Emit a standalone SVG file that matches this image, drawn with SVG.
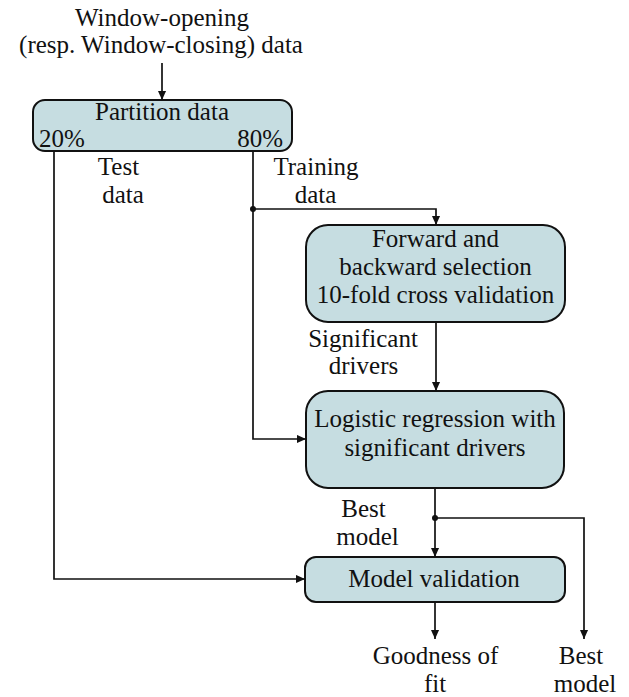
<svg xmlns="http://www.w3.org/2000/svg" width="629" height="697" viewBox="0 0 629 697">
  <style>
    text { font-family: "Liberation Serif", "Times New Roman", serif; font-size: 25px; fill: #111111; text-anchor: middle; }
    .box { fill: #c6dde1; stroke: #111111; stroke-width: 2; }
    .edge { fill: none; stroke: #111111; stroke-width: 1.7; }
    .dot { fill: #111111; }
  </style>
  <defs>
    <marker id="arrow" viewBox="0 0 10 10" refX="10" refY="5" markerWidth="9" markerHeight="9" markerUnits="userSpaceOnUse" orient="auto">
      <path d="M0,0.5 L10,5 L0,9.5 Z" fill="#111111"/>
    </marker>
  </defs>
  <rect width="629" height="697" fill="#ffffff"/>

  <!-- input label -->
  <g id="input">
    <text x="162" y="26">Window-opening</text>
    <text x="161" y="53">(resp. Window-closing) data</text>
  </g>

  <!-- nodes -->
  <g id="partition">
    <rect class="box" x="33" y="100" width="259" height="51" rx="12"/>
    <text x="162" y="120">Partition data</text>
    <text x="39" y="147" style="text-anchor:start">20%</text>
    <text x="283" y="147" style="text-anchor:end">80%</text>
  </g>
  <g id="selection">
    <rect class="box" x="306" y="225" width="259" height="97" rx="22"/>
    <text x="435.5" y="247">Forward and</text>
    <text x="435.5" y="275">backward selection</text>
    <text x="435.5" y="303">10-fold cross validation</text>
  </g>
  <g id="regression">
    <rect class="box" x="306" y="391" width="258" height="97" rx="22"/>
    <text x="435" y="427">Logistic regression with</text>
    <text x="435" y="456">significant drivers</text>
  </g>
  <g id="validation">
    <rect class="box" x="305" y="557" width="260" height="45" rx="11"/>
    <text x="434" y="587">Model validation</text>
  </g>

  <!-- connectors -->
  <g id="connectors">
    <path class="edge" d="M162,63 V100" marker-end="url(#arrow)"/>
    <path class="edge" d="M54,151 V579 H305" marker-end="url(#arrow)"/>
    <path class="edge" d="M253,151 V439 H306" marker-end="url(#arrow)"/>
    <path class="edge" d="M253,209 H436 V225" marker-end="url(#arrow)"/>
    <path class="edge" d="M436,322 V391" marker-end="url(#arrow)"/>
    <path class="edge" d="M435,488 V557" marker-end="url(#arrow)"/>
    <path class="edge" d="M435,518 H584 V639" marker-end="url(#arrow)"/>
    <path class="edge" d="M435,602 V639" marker-end="url(#arrow)"/>
    <circle class="dot" cx="253" cy="209" r="3"/>
    <circle class="dot" cx="435" cy="518" r="3"/>
  </g>

  <!-- connector labels -->
  <g id="labels">
    <text x="118.5" y="175">Test</text>
    <text x="123" y="203">data</text>
    <text x="316" y="175">Training</text>
    <text x="315.5" y="203">data</text>
    <text x="363" y="347">Significant</text>
    <text x="363.5" y="374">drivers</text>
    <text x="363.5" y="517">Best</text>
    <text x="367.5" y="545">model</text>
  </g>

  <!-- outputs -->
  <g id="outputs">
    <text x="435.5" y="664">Goodness of</text>
    <text x="435" y="692">fit</text>
    <text x="581" y="664">Best</text>
    <text x="585" y="692">model</text>
  </g>
</svg>
